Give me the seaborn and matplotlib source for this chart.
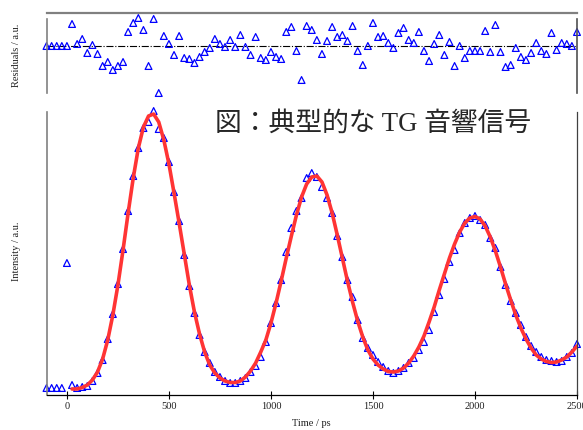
import matplotlib
matplotlib.use("Agg")
import matplotlib.pyplot as plt
import numpy as np
import pandas as pd
import seaborn as sns

# ---- data (time grid: 25 ps steps) ----
time_ps = np.arange(-100, 2501, 25)

signal = [
    0, 0, 0, 0, 125,
    3, 0, 1, 2, 7, 15, 28, 49, 74, 104,
    139, 177, 212, 240, 260, 266, 277, 259, 250, 226,
    196, 167, 133, 102, 75, 53, 36, 25, 16, 11,
    7, 5, 5, 7, 10, 16, 22, 31, 46, 65,
    85, 108, 136, 160, 177, 190, 210, 215, 211, 201,
    190, 175, 152, 131, 108, 91, 68, 50, 40, 33,
    26, 21, 17, 15, 17, 20, 25, 30, 38, 46,
    58, 76, 93, 109, 126, 138, 155, 165, 170, 172,
    168, 163, 150, 140, 121, 103, 87, 75, 63, 51,
    42, 36, 31, 28, 27, 26, 27, 31, 35, 44,
]

# fitted curve, defined from t = 25 ps on
fit_time_ps = np.arange(25, 2501, 25)
fit = [
    -1, -1, 0.5, 3, 8, 16, 29, 48, 73, 103,
    138, 175, 210, 240, 261, 272, 274, 266, 248, 224,
    195, 165, 134, 103, 76, 54, 36, 23, 15, 10,
    7, 5.5, 5.5, 7, 11, 17, 25, 36, 48, 65,
    85, 107, 130, 152, 173, 191, 204, 211, 212, 206,
    193, 175, 153, 130, 107, 86, 67, 51, 38, 29,
    23, 19, 16.5, 16, 17, 20, 25, 32, 41, 52,
    66, 81, 98, 114, 130, 144, 156, 165, 170, 171.5,
    169, 162, 151, 137, 121, 104, 88, 73, 60, 49,
    40, 33, 29, 26.5, 25.5, 26, 28, 31, 36, 42,
]

residuals = [
    0, 0, 0, 0, 0,
    22, 2, 7, -7, 1, -8, -20, -16, -24, -20,
    -16, 14, 23, 28, 16, -20, 27, -47, 10, 2,
    -9, 10, -12, -13, -17, -11, -6, -2, 7, 2,
    -1, 6, -1, 11, -1, -9, 9, -12, -14, -6,
    -11, -13, 14, 19, -5, -34, 20, 16, 6, -8,
    5, 19, 9, 11, 5, 20, -5, -19, 0, 23,
    9, 10, 3, -2, 13, 18, 6, 3, 14, -5,
    -15, 2, 11, -9, 4, -20, 0, -12, -5, -5,
    -5, 15, -6, 21, -6, -21, -19, -2, -11, -14,
    -7, 3, -5, -8, 13, -4, 3, 2, 0, 14,
]

x_ticks = [0, 500, 1000, 1500, 2000, 2500]
title_text = "図：典型的な TG 音響信号"

df_data = pd.DataFrame({"t": time_ps, "signal": signal, "resid": residuals})
df_fit = pd.DataFrame({"t": fit_time_ps, "fit": fit})

sns.set_theme(style="white")
plt.rcParams["font.family"] = ["Liberation Serif", "Noto Sans CJK JP", "DejaVu Sans"]

BLUE = "#0000ff"
RED = "#ff3434"
GRAY = "#808080"

fig = plt.figure(figsize=(5.83, 4.30), dpi=100)
ax = fig.add_axes([0.0798, 0.0814, 0.9099, 0.6581])
ax_r = fig.add_axes([0.0798, 0.7837, 0.9099, 0.1861])

# ---- main panel ----
sns.scatterplot(data=df_data, x="t", y="signal", ax=ax, marker="^", s=24,
                facecolor="none", edgecolor=BLUE, linewidth=0.9,
                clip_on=False, zorder=2)
sns.lineplot(data=df_fit, x="t", y="fit", ax=ax, color=RED, lw=2.6,
             zorder=3, solid_capstyle="round")
ax.set_xlim(-100, 2500)
ax.set_ylim(-7, 276)
ax.set_xticks(x_ticks)
ax.set_yticks([])
ax.set_xlabel("")
ax.set_ylabel("")
ax.tick_params(axis="x", direction="inout", length=6, width=0.8,
               colors="black", labelsize=7.5, pad=2, bottom=True)
for lab in ax.get_xticklabels():
    lab.set_color("#202020")
ax.spines["top"].set_visible(False)
ax.spines["bottom"].set_color("black")
ax.spines["bottom"].set_linewidth(0.9)
ax.spines["left"].set_color(GRAY)
ax.spines["left"].set_linewidth(1.2)
ax.spines["right"].set_color("#404040")
ax.spines["right"].set_linewidth(0.9)

ax.text(0.3176, 0.958, title_text, transform=ax.transAxes,
        fontsize=19.3, color="#262626", ha="left", va="center")

# ---- residual panel ----
ax_r.axhline(0, color="black", lw=0.8, ls="-.", zorder=1)
sns.scatterplot(data=df_data, x="t", y="resid", ax=ax_r, marker="^", s=24,
                facecolor="none", edgecolor=BLUE, linewidth=0.9,
                clip_on=False, zorder=2)
ax_r.set_xlim(-100, 2500)
ax_r.set_ylim(-47, 33)
ax_r.set_xticks([])
ax_r.set_yticks([])
ax_r.set_xlabel("")
ax_r.set_ylabel("")
ax_r.spines["bottom"].set_visible(False)
ax_r.spines["top"].set_color(GRAY)
ax_r.spines["top"].set_linewidth(1.6)
ax_r.spines["left"].set_color(GRAY)
ax_r.spines["left"].set_linewidth(1.2)
ax_r.spines["left"].set_bounds(-47, 27)
ax_r.spines["right"].set_color("#505050")
ax_r.spines["right"].set_linewidth(1.2)
ax_r.spines["right"].set_bounds(-47, 27)

# axis labels
fig.text(0.5346, 0.014, "Time / ps", fontsize=7.5, ha="center", va="center",
         color="#202020")
fig.text(0.0275, 0.416, "Intensity / a.u.", fontsize=7.5, rotation=90,
         ha="center", va="center", color="#202020")
fig.text(0.0275, 0.872, "Residuals / a.u.", fontsize=7.5, rotation=90,
         ha="center", va="center", color="#202020")

fig.savefig("out.png", dpi=100)
